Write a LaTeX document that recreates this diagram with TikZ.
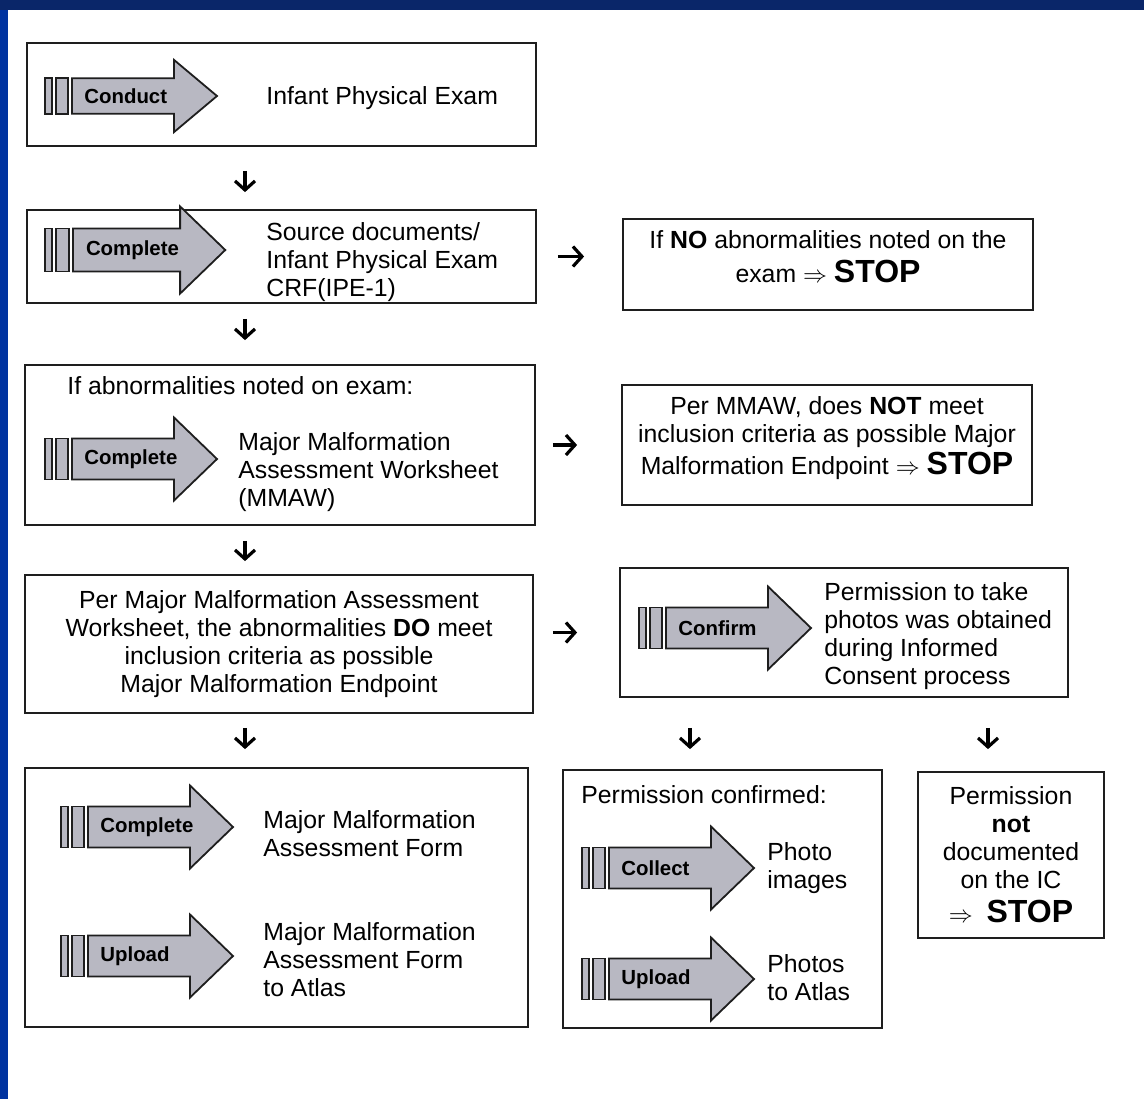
\documentclass[tikz,border=0pt]{standalone}
\usepackage{fontspec}
\setmainfont{Liberation Sans}
\usetikzlibrary{arrows.meta}

\definecolor{framenavy}{RGB}{10,38,105}
\definecolor{frameblue}{RGB}{0,51,160}
\definecolor{arrowgray}{RGB}{184,184,194}
\definecolor{inkgray}{RGB}{30,30,30}

\newcommand{\stopword}{{\fontsize{16}{18}\selectfont\bfseries STOP}}

\tikzset{
  box/.style={draw=inkgray, line width=0.9pt, inner sep=0pt},
  bodytext/.style={font=\fontsize{12.4}{14}\selectfont, inner sep=0pt},
  steplabel/.style={font=\fontsize{10.2}{12}\selectfont\bfseries, anchor=west, inner sep=0pt},
  shapeline/.style={draw=inkgray, line width=0.9pt, fill=arrowgray},
  flow/.style={line width=1.6pt, -{Straight Barb[length=4.5pt,width=10pt]}},
  procarrow/.pic={
    \filldraw[shapeline] (-27,-20.5) rectangle (-20,20.5);
    \filldraw[shapeline] (-16,-20.5) rectangle (-4,20.5);
    \filldraw[shapeline] (0,-20.5) -- (102,-20.5) -- (102,-41.5) -- (145,0)
      -- (102,41.5) -- (102,20.5) -- (0,20.5) -- cycle;
    \node[steplabel] (-label) at (12,0) {#1};
  }
}

\begin{document}
\begin{tikzpicture}[x=0.5pt,y=-0.5pt]
  \useasboundingbox (0,0) rectangle (1144,1099);
  \fill[white] (0,0) rectangle (1144,1099);
  \fill[frameblue] (0,0) rectangle (8,1099);
  \fill[framenavy] (0,0) rectangle (1144,10);

  % left column
  \node[box, minimum width=254.5pt, minimum height=51.5pt] (b1) at (281.5,94.5) {};
  \pic[yscale=0.87] (a1) at (72,96) {procarrow=Conduct};
  \node[bodytext, anchor=west] (t1) at (266,98) {Infant Physical Exam};

  \node[box, minimum width=254.5pt, minimum height=46.5pt] (b2) at (281.5,256.5) {};
  \pic[scale=1.05] (a2) at (73,250) {procarrow=Complete};
  \node[bodytext, anchor=west, align=left] (t2) at (266,262) {Source documents/\\Infant Physical Exam\\CRF(IPE-1)};

  \node[box, minimum width=255pt, minimum height=80pt] (b3) at (280,445) {};
  \node[bodytext, anchor=west] (t3h) at (67,386) {If abnormalities noted on exam:};
  \pic (a3) at (72,459) {procarrow=Complete};
  \node[bodytext, anchor=west, align=left] (t3) at (238,472) {Major Malformation\\Assessment Worksheet\\(MMAW)};

  \node[box, bodytext, align=center, minimum width=254pt, minimum height=69pt] (b4) at (279,644)
    {Per Major Malformation Assessment\\Worksheet, the abnormalities \textbf{DO} meet\\inclusion criteria as possible\\Major Malformation Endpoint};

  \node[box, minimum width=251.5pt, minimum height=129.5pt] (b5) at (276.5,897.5) {};
  \pic (a5) at (88,827) {procarrow=Complete};
  \node[bodytext, anchor=west, align=left] (t5a) at (263,834) {Major Malformation\\Assessment Form};
  \pic (a6) at (88,956) {procarrow=Upload};
  \node[bodytext, anchor=west, align=left] (t5b) at (263,960) {Major Malformation\\Assessment Form\\to Atlas};

  % right column
  \node[box, minimum width=205pt, minimum height=45.5pt] (b2r) at (828,264.5) {};
  \node[bodytext, align=center] (t2r) at (828,257)
    {If \textbf{NO} abnormalities noted on the\\[3pt]exam $\Rightarrow$ \stopword};

  \node[box, minimum width=205pt, minimum height=60pt] (b3r) at (827,445) {};
  \node[bodytext, align=center] (t3r) at (827,438)
    {Per MMAW, does \textbf{NOT} meet\\inclusion criteria as possible Major\\[2pt]Malformation Endpoint $\Rightarrow$ \stopword};

  \node[box, minimum width=224pt, minimum height=64.5pt] (b4r) at (844,632.5) {};
  \pic (a4) at (666,628) {procarrow=Confirm};
  \node[bodytext, anchor=west, align=left] (t4r) at (824,636) {Permission to take\\photos was obtained\\during Informed\\Consent process};

  \node[box, minimum width=159.5pt, minimum height=129pt] (b6) at (722.5,899) {};
  \node[bodytext, anchor=west] (t6h) at (581,795) {Permission confirmed:};
  \pic (a7) at (609,868) {procarrow=Collect};
  \node[bodytext, anchor=west, align=left] (t6a) at (767,868) {Photo\\images};
  \pic (a8) at (609,979) {procarrow=Upload};
  \node[bodytext, anchor=west, align=left] (t6b) at (767,978) {Photos\\to Atlas};

  \node[box, minimum width=93pt, minimum height=83pt] (b7) at (1011,855) {};
  \node[bodytext, align=center] (t7) at (1011,855)
    {Permission\\\textbf{not}\\documented\\on the IC\\[3pt]$\Rightarrow$\ \ \stopword};

  % flow arrows
  \coordinate (colL) at (245,0);
  \coordinate (colM) at (690,0);
  \coordinate (colR) at (988,0);
  \draw[flow, shorten <=12pt, shorten >=8.5pt] (b1.south -| colL) -- (b2.north -| colL);
  \draw[flow, shorten <=7.5pt, shorten >=12pt] (b2.south -| colL) -- (b3.north -| colL);
  \draw[flow, shorten <=7.5pt, shorten >=6.5pt] (b3.south -| colL) -- (b4.north -| colL);
  \draw[flow, shorten <=7pt, shorten >=9pt] (b4.south -| colL) -- (b5.north -| colL);
  \draw[flow, shorten <=15pt, shorten >=10pt] (b4r.south -| colM) -- (b6.north -| colM);
  \draw[flow, shorten <=15pt, shorten >=11pt] (b4r.south -| colR) -- (b7.north -| colR);
  \draw[flow, shorten <=10.5pt, shorten >=19pt] (b2.east) -- (b2.east -| b2r.west);
  \draw[flow, shorten <=8.5pt, shorten >=22pt] (b3.east) -- (b3.east -| b3r.west);
  \draw[flow, shorten <=9.5pt, shorten >=21pt] (b4.east |- b4r.west) -- (b4r.west);
\end{tikzpicture}
\end{document}
